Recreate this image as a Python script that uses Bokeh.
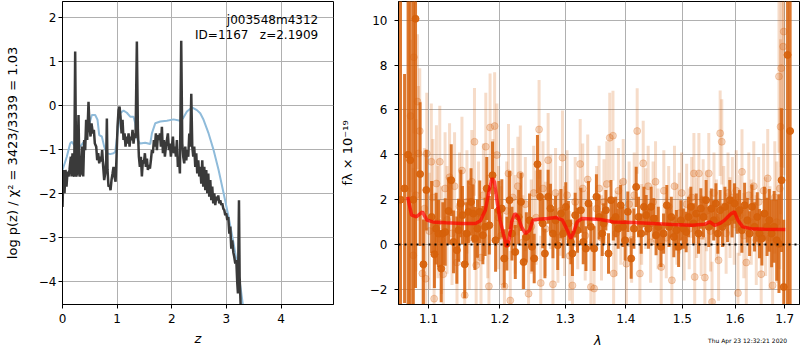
from bokeh.plotting import figure
from bokeh.layouts import row, column
from bokeh.models import Range1d, FixedTicker, CustomJSTickFormatter, Label, Span
from bokeh.embed import file_html
from bokeh.resources import INLINE

FONT = "DejaVu Sans"

# ---------------- left panel: p(z) and chi2 curves ----------------
pz_z = [0.000, 0.018, 0.037, 0.055, 0.073, 0.092, 0.110, 0.128, 0.153, 0.165,
        0.183, 0.195, 0.214, 0.232, 0.250, 0.269, 0.293, 0.311, 0.336, 0.360,
        0.379, 0.397, 0.415, 0.433, 0.452, 0.476, 0.495, 0.513, 0.531, 0.556,
        0.574, 0.592, 0.617, 0.635, 0.653, 0.672, 0.690, 0.708, 0.726, 0.745,
        0.763, 0.781, 0.800, 0.812, 0.824, 0.842, 0.861, 0.879, 0.897, 0.916,
        0.934, 0.952, 0.971, 0.989, 1.007, 1.026, 1.044, 1.062, 1.081, 1.099,
        1.117, 1.136, 1.154, 1.172, 1.190, 1.209, 1.227, 1.245, 1.264, 1.282,
        1.300, 1.319, 1.337, 1.361, 1.380, 1.398, 1.416, 1.435, 1.453, 1.471,
        1.490, 1.508, 1.526, 1.545, 1.563, 1.581, 1.600, 1.618, 1.636, 1.654,
        1.673, 1.691, 1.709, 1.728, 1.746, 1.764, 1.783, 1.801, 1.819, 1.838,
        1.856, 1.874, 1.893, 1.911, 1.929, 1.948, 1.966, 1.984, 2.002, 2.021,
        2.039, 2.057, 2.076, 2.094, 2.112, 2.131, 2.149, 2.173, 2.192, 2.210,
        2.228, 2.247, 2.265, 2.283, 2.302, 2.320, 2.338, 2.357, 2.375, 2.393,
        2.411, 2.430, 2.448, 2.466, 2.485, 2.503, 2.521, 2.540, 2.558, 2.576,
        2.595, 2.613, 2.631, 2.650, 2.668, 2.686, 2.705, 2.723, 2.741, 2.759,
        2.778, 2.796, 2.814, 2.833, 2.851, 2.869, 2.888, 2.906, 2.924, 2.943,
        2.961, 2.979, 2.998, 3.016, 3.034, 3.053, 3.071, 3.089, 3.107, 3.126,
        3.144, 3.162, 3.181, 3.199, 3.211, 3.230, 3.242, 3.260, 3.266]
pz_logp = [-2.31, -1.47, -2.00, -1.47, -1.85, -1.51, -1.62, -1.47, -1.17, -1.62,
           -1.09, -1.55, -1.62, 1.22, -1.62, -1.55, -0.22, -1.62, -1.55, -0.94,
           -1.62, -0.79, -1.02, -0.33, -0.79, 0.08, -0.49, -0.71, -0.41, -0.64,
           -0.56, -0.87, -0.94, -1.25, -1.09, -1.32, -1.17, -1.28, -1.02, -1.40,
           -1.70, -1.55, -1.25, -0.30, -1.47, -1.85, -1.81, -1.93, -1.70, -1.55,
           -1.40, -1.62, -1.74, -1.17, -0.49, -0.11, -0.03, -0.26, -0.64, -0.33,
           -0.79, -0.64, -0.94, -0.71, -0.87, -0.64, -0.94, -0.71, -0.79, -0.56,
           -0.87, -0.64, -0.75, 1.45, -0.56, -1.17, -1.40, -1.17, -1.62, -1.25,
           -1.32, -1.09, -1.40, -1.21, -1.47, -1.36, -1.44, -1.25, -1.02, -1.09,
           -0.79, -0.94, -0.64, -1.02, -0.68, -0.79, -0.64, -0.94, -0.49, -1.09,
           -0.79, -1.17, -0.94, -0.79, -0.64, -1.02, -0.87, -1.17, -0.94, -0.71,
           -1.09, -0.94, -1.17, -0.79, -1.40, -1.17, -1.55, 1.47, -0.87, -1.17,
           -1.32, -0.94, -1.25, -1.02, -1.17, -0.64, -0.94, 0.26, -0.94, -1.17,
           -0.94, -1.40, -1.09, -1.55, -1.25, -1.62, -1.40, -1.78, -1.25, -1.85,
           -1.40, -1.93, -1.47, -2.00, -1.55, -2.08, -1.70, -2.16, -1.85, -2.23,
           -2.00, -2.27, -2.08, -2.16, -2.05, -2.23, -2.16, -2.27, -2.23, -2.35,
           -2.38, -2.50, -2.46, -2.61, -2.54, -2.92, -2.76, -3.26, -3.07, -3.34,
           -3.45, -3.60, -3.52, -4.05, -4.28, -2.16, -3.90, -4.53, -4.82]

chi_z = [0.000, 0.079, 0.140, 0.171, 0.232, 0.324, 0.415, 0.476, 0.537, 0.598,
         0.641, 0.672, 0.720, 0.763, 0.812, 0.873, 0.934, 0.965, 1.007, 1.056,
         1.117, 1.178, 1.239, 1.300, 1.331, 1.374, 1.422, 1.514, 1.606, 1.636,
         1.697, 1.789, 1.911, 2.033, 2.155, 2.204, 2.277, 2.369, 2.460, 2.521,
         2.582, 2.674, 2.766, 2.857, 2.949, 3.040, 3.132, 3.205, 3.266, 3.315]
chi_val = [-1.47, -1.17, -0.87, -0.83, -0.94, -0.94, -0.79, -0.49, -0.22, -0.22,
           -0.33, -0.68, -0.71, -0.94, -1.09, -1.11, -1.09, -1.06, -0.64, -0.18,
           -0.12, -0.17, -0.26, -0.26, -0.41, -0.79, -0.87, -0.85, -0.88, -0.64,
           -0.41, -0.37, -0.35, -0.32, -0.35, -0.30, -0.14, -0.05, -0.11, -0.18,
           -0.33, -0.64, -1.02, -1.47, -2.00, -2.54, -3.14, -3.68, -4.21, -4.66]

z_ticks = [0, 1, 2, 3, 4]
logp_ticks = [-4, -3, -2, -1, 0, 1, 2]
root_name = "j003548m4312"
id_line = "ID=1167\u00a0\u00a0\u00a0z=2.1909"
left_ylabel = "log p(z) / \u03c7\u00b2 = 3423/3339 = 1.03"

# ---------------- right panel: 1D spectrum ----------------
model_wave = [1.0722, 1.0774, 1.0839, 1.0917, 1.0979, 1.1058, 1.1237, 1.1465, 1.1649, 1.1720,
              1.1790, 1.1847, 1.1886, 1.1923, 1.1958, 1.2005, 1.2053, 1.2102, 1.2136, 1.2175,
              1.2224, 1.2272, 1.2323, 1.2382, 1.2446, 1.2496, 1.2571, 1.2723, 1.2852, 1.2955,
              1.3033, 1.3086, 1.3127, 1.3191, 1.3270, 1.3567, 1.3786, 1.4121, 1.4465, 1.4816,
              1.5177, 1.5421, 1.5514, 1.5608, 1.5702, 1.5797, 1.5924, 1.5988, 1.6053, 1.6150,
              1.6312, 1.6575, 1.7013]
model_flux = [2.13, 1.31, 1.24, 1.46, 1.09, 1.01, 0.97, 0.94, 0.94, 1.06,
              1.53, 2.43, 2.95, 2.80, 1.98, 1.09, 0.49, -0.10, 0.19, 1.01,
              1.38, 1.24, 0.79, 0.49, 0.64, 1.09, 1.13, 1.16, 1.21, 1.09,
              0.64, 0.27, 0.49, 1.01, 1.16, 1.12, 1.01, 0.98, 0.94, 0.89,
              0.86, 0.91, 1.01, 0.85, 0.94, 1.09, 1.38, 1.46, 1.09, 0.79,
              0.71, 0.68, 0.67]

dark_wave = [1.0629, 1.0682, 1.0728, 1.0756, 1.0796, 1.0826, 1.0887, 1.0931, 1.0970, 1.1041,
             1.1079, 1.1102, 1.1134, 1.1171, 1.1193, 1.1226, 1.1272, 1.1309, 1.1341, 1.1387,
             1.1410, 1.1442, 1.1465, 1.1497, 1.1525, 1.1548, 1.1586, 1.1617, 1.1641, 1.1677,
             1.1710, 1.1755, 1.1787, 1.1811, 1.1848, 1.1894, 1.1939, 1.1986, 1.2030, 1.2065,
             1.2105, 1.2144, 1.2180, 1.2230, 1.2280, 1.2316, 1.2355, 1.2396, 1.2445, 1.2481,
             1.2516, 1.2566, 1.2606, 1.2647, 1.2681, 1.2731, 1.2767, 1.2806, 1.2847, 1.2881,
             1.2932, 1.2967, 1.3008, 1.3050, 1.3089, 1.3115, 1.3159, 1.3196, 1.3251, 1.3289,
             1.3333, 1.3375, 1.3414, 1.3467, 1.3505, 1.3549, 1.3602, 1.3625, 1.3662, 1.3706,
             1.3748, 1.3787, 1.3825, 1.3869, 1.3911, 1.3950, 1.3987, 1.4033, 1.4091, 1.4138,
             1.4178, 1.4218, 1.4265, 1.4312, 1.4352, 1.4392, 1.4439, 1.4486, 1.4526, 1.4566,
             1.4613, 1.4660, 1.4718, 1.4758, 1.4800, 1.4845, 1.4892, 1.4932, 1.4974, 1.5020,
             1.5071, 1.5114, 1.5158, 1.5207, 1.5257, 1.5300, 1.5344, 1.5393, 1.5443, 1.5493,
             1.5542, 1.5586, 1.5629, 1.5666, 1.5709, 1.5754, 1.5802, 1.5853, 1.5895, 1.5940,
             1.5989, 1.6042, 1.6087, 1.6133, 1.6187, 1.6240, 1.6286, 1.6333, 1.6385, 1.6439,
             1.6484, 1.6532, 1.6583, 1.6637, 1.6683, 1.6730, 1.6782, 1.6835, 1.6881, 1.6935,
             1.6980, 1.7059, 1.7113]
dark_flux = [2.0, 2.5, 4.0, 3.76, 2.0, 10.06, 3.14, -0.88, 2.43, 1.23,
             -0.43, 0.71, 0.49, -1.07, 0.49, 0.56, 1.50, 2.87, 0.12, -0.25,
             0.64, 1.83, 1.31, -0.88, 0.49, 1.46, 1.90, 1.38, 0.27, 0.71,
             1.46, 0.42, 0.79, 2.50, 0.86, 3.09, 0.19, 1.53, 1.61, -0.62,
             0.04, 1.98, 0.49, -0.33, 1.23, 1.90, -0.78, 0.34, 1.08, -0.10,
             -0.62, 3.58, 2.13, 0.94, -0.40, 2.13, 1.61, 0.49, 1.08, -0.03,
             1.38, 0.49, 1.68, 0.94, 0.12, -0.40, 1.31, 0.64, 1.53, 0.12,
             -0.18, 1.83, 0.79, -0.18, 2.13, 1.23, 0.49, 0.94, 1.53, -0.40,
             1.98, 1.08, 1.23, 0.71, 1.75, 0.79, 0.19, 1.46, -0.62, 0.71,
             2.57, 1.23, 0.49, 1.68, 1.31, 0.71, 1.68, 1.16, 0.42, 0.79,
             -0.10, 0.49, 1.75, 0.79, 1.23, 0.34, 0.64, -0.10, 1.08, 0.71,
             0.56, 1.23, 1.68, 0.94, 1.38, 0.49, 1.61, 1.23, 1.98, 0.79,
             1.60, 1.08, 1.83, 0.49, 1.53, 0.79, 1.68, 1.01, 1.98, 1.23,
             1.83, 1.38, 1.53, 0.64, 1.75, 1.08, 0.49, 1.68, 0.79, 1.23,
             0.49, 0.27, 1.38, 0.79, 1.08, 0.49, 0.79, 0.19, 0.04, 2.87,
             -1.89, 8.45, 5.06]
dark_err = [15, 5.1, 12, 12, 12, 12, 3.2, 2.0, 1.8, 1.6,
            1.5, 1.6, 1.5, 1.5, 1.4, 1.5, 1.5, 1.6, 1.4, 1.5,
            1.4, 1.5, 1.3, 1.5, 1.4, 1.4, 1.5, 1.3, 1.4, 1.3,
            1.4, 1.3, 1.3, 1.4, 1.3, 1.5, 1.4, 1.3, 1.3, 1.3,
            1.2, 1.3, 1.2, 1.2, 1.2, 1.3, 1.2, 1.1, 1.2, 1.1,
            1.1, 1.3, 1.2, 1.1, 1.1, 1.2, 1.1, 1.1, 1.1, 1.1,
            1.1, 1.1, 1.1, 1.0, 1.0, 1.0, 1.0, 1.0, 1.0, 1.0,
            1.0, 1.0, 1.0, 1.0, 1.0, 1.0, 1.0, 0.9, 0.9, 0.9,
            0.9, 0.9, 0.9, 0.9, 0.9, 0.9, 0.9, 0.9, 0.9, 0.9,
            0.9, 0.9, 0.9, 0.9, 0.9, 0.9, 0.9, 0.9, 0.9, 0.9,
            0.9, 0.9, 0.9, 0.9, 0.9, 0.9, 0.9, 0.9, 0.9, 0.9,
            0.9, 0.9, 0.9, 0.9, 0.9, 0.9, 0.9, 0.9, 0.9, 0.9,
            0.9, 0.9, 0.9, 0.9, 0.9, 0.9, 0.9, 0.9, 0.9, 0.9,
            0.9, 0.9, 0.9, 1.0, 1.0, 1.0, 1.0, 1.0, 1.1, 1.1,
            1.1, 1.2, 1.2, 1.3, 1.4, 1.5, 1.6, 1.8, 2.2, 3.2,
            3.0, 12, 12]

light_wave = [1.0760, 1.0796, 1.0804, 1.0832, 1.0852, 1.0865, 1.0882, 1.0917, 1.0944, 1.0961,
              1.0976, 1.1010, 1.1037, 1.1058, 1.1075, 1.1106, 1.1127, 1.1152, 1.1175, 1.1199,
              1.1224, 1.1251, 1.1286, 1.1320, 1.1355, 1.1389, 1.1424, 1.1458, 1.1497, 1.1528,
              1.1562, 1.1597, 1.1635, 1.1659, 1.1693, 1.1728, 1.1762, 1.1797, 1.1824, 1.1842,
              1.1859, 1.1901, 1.1925, 1.1958, 1.1983, 1.2020, 1.2069, 1.2102, 1.2129, 1.2155,
              1.2193, 1.2230, 1.2268, 1.2305, 1.2343, 1.2381, 1.2430, 1.2471, 1.2508, 1.2546,
              1.2591, 1.2617, 1.2651, 1.2689, 1.2731, 1.2772, 1.2806, 1.2847, 1.2884, 1.2922,
              1.2956, 1.2989, 1.3029, 1.3070, 1.3115, 1.3159, 1.3200, 1.3240, 1.3281, 1.3321,
              1.3362, 1.3414, 1.3467, 1.3508, 1.3549, 1.3589, 1.3630, 1.3678, 1.3727, 1.3781,
              1.3792, 1.3833, 1.3873, 1.3914, 1.3955, 1.4009, 1.4056, 1.4099, 1.4143, 1.4195,
              1.4242, 1.4273, 1.4300, 1.4343, 1.4387, 1.4430, 1.4474, 1.4517, 1.4561, 1.4618,
              1.4665, 1.4709, 1.4752, 1.4810, 1.4857, 1.4900, 1.4944, 1.4988, 1.5034, 1.5080,
              1.5127, 1.5173, 1.5214, 1.5229, 1.5266, 1.5307, 1.5350, 1.5387, 1.5419, 1.5452,
              1.5493, 1.5527, 1.5555, 1.5592, 1.5639, 1.5680, 1.5710, 1.5741, 1.5779, 1.5825,
              1.5862, 1.5900, 1.5946, 1.5983, 1.6022, 1.6056, 1.6091, 1.6135, 1.6171, 1.6220,
              1.6270, 1.6319, 1.6369, 1.6419, 1.6468, 1.6518, 1.6567, 1.6607, 1.6651, 1.6696,
              1.6750, 1.6795, 1.6835, 1.6881, 1.6899, 1.6914, 1.6928, 1.6968, 1.6980]
light_flux = [5.73, -0.48, 8.35, 2.2, 6.37, 4.06, 5.06, -1.29, 1.6, -1.52,
              4.06, 0.6, 3.69, 2.1, -2.41, 2.72, 1.0, 3.69, 0.2, -1.32,
              2.5, 1.1, 3.0, 0.5, 2.6, -0.8, 1.7, 3.3, -2.26, 1.9,
              0.3, 2.8, 4.58, -0.92, 1.4, -0.58, 2.2, 4.36, 0.8, -1.86,
              5.22, 2.4, 5.28, 3.99, 1.2, 0.4, -1.86, 1.5, 3.17, -2.49,
              2.1, 0.9, 2.6, 3.10, 0.1, 1.8, -2.19, 0.8, 2.3, 1.2,
              5.13, -1.71, 2.5, 0.7, 3.76, 1.9, -1.77, 2.3, 0.3, 1.5,
              3.87, 0.6, 2.2, -0.5, -1.82, 1.9, 0.9, 3.59, 2.5, 0.4,
              2.9, -1.89, -1.96, 1.6, 2.5, 0.3, 1.9, 2.7, 4.76, 4.85,
              -1.29, 0.5, 2.4, 1.0, 2.8, -0.85, 1.8, 0.2, 2.2, 5.06,
              -1.29, 0.9, 3.62, 1.6, 2.6, 0.1, 1.9, 2.8, 0.7, -1.00,
              2.4, 0.3, 1.7, -1.59, 2.6, 0.9, 1.4, 2.3, 0.2, 1.8,
              0.7, 2.1, 3.17, -1.44, 1.2, 3.17, 0.4, 2.0, -1.47, 1.5,
              3.17, 0.6, -2.56, 2.3, 1.1, -0.70, 4.96, 4.58, 1.7, 0.5,
              2.3, 1.2, 2.1, 0.9, 2.4, -2.16, 1.3, 3.24, 0.4, -0.80,
              2.2, 1.0, 2.6, 0.2, 1.9, -1.32, 2.4, 0.8, 2.95, 0.3,
              -1.82, 2.1, 1.0, 7.49, 2.5, 5.25, 7.86, 8.82, 9.49]
light_err = [3.4, 3.9, 3.4, 3.4, 3.0, 3.0, 2.8, 2.6, 2.7, 2.6,
             2.7, 2.6, 2.6, 2.6, 2.4, 2.6, 2.5, 2.5, 2.4, 2.4,
             2.5, 2.4, 2.4, 2.3, 2.4, 2.3, 2.4, 2.4, 2.3, 2.3,
             2.3, 2.3, 2.4, 2.3, 2.3, 2.3, 2.3, 2.4, 2.3, 2.3,
             2.4, 2.3, 2.4, 2.3, 2.3, 2.2, 2.2, 2.2, 2.2, 2.2,
             2.2, 2.2, 2.2, 2.2, 2.1, 2.1, 2.1, 2.1, 2.1, 2.1,
             2.2, 2.1, 2.1, 2.1, 2.1, 2.1, 2.0, 2.0, 2.0, 2.0,
             2.1, 2.0, 2.0, 2.0, 2.0, 2.0, 2.0, 2.0, 2.0, 2.0,
             2.0, 2.0, 1.9, 1.9, 1.9, 1.9, 1.9, 1.9, 2.0, 2.0,
             1.9, 1.9, 1.9, 1.9, 1.9, 1.9, 1.9, 1.9, 1.9, 1.9,
             1.9, 1.8, 1.9, 1.8, 1.8, 1.8, 1.8, 1.8, 1.8, 1.8,
             1.8, 1.8, 1.8, 1.8, 1.8, 1.8, 1.8, 1.8, 1.8, 1.8,
             1.8, 1.8, 1.8, 1.8, 1.8, 1.8, 1.8, 1.8, 1.8, 1.8,
             1.8, 1.8, 1.8, 1.8, 1.8, 1.8, 1.9, 1.9, 1.8, 1.8,
             1.8, 1.8, 1.8, 1.8, 1.8, 1.8, 1.8, 1.9, 1.9, 1.9,
             1.9, 1.9, 2.0, 2.0, 2.0, 2.1, 2.1, 2.2, 2.2, 2.3,
             2.4, 2.5, 2.7, 3.4, 3.6, 3.9, 4.4, 5.4, 6.4]

wave_ticks = [1.1, 1.2, 1.3, 1.4, 1.5, 1.6, 1.7]
flux_ticks = [-2, 0, 2, 4, 6, 8, 10]
right_ylabel = "f\u03bb \u00d7 10\u207b\u00b9\u2079"
right_xlabel = "\u03bb"
timestamp = "Thu Apr 23 12:32:21 2020"

ORANGE = "#d6600a"

minus_fmt = CustomJSTickFormatter(
    code="return (tick < 0 ? '\\u2212' : '') + Math.abs(tick).toString();")
wave_fmt = CustomJSTickFormatter(code="return tick.toFixed(1);")


def style(p):
    p.outline_line_color = "black"
    p.outline_line_width = 1
    p.outline_line_alpha = 1
    p.background_fill_color = "white"
    p.border_fill_color = "white"
    for ax in p.axis:
        ax.axis_line_color = "black"
        ax.major_tick_line_color = "black"
        ax.major_tick_out = 4
        ax.major_tick_in = 0
        ax.minor_tick_out = 0
        ax.minor_tick_in = 0
        ax.major_label_text_font = FONT
        ax.major_label_text_font_size = "12px"
        ax.major_label_text_color = "black"
        ax.axis_label_text_font = FONT
        ax.axis_label_text_font_size = "13px"
        ax.axis_label_text_font_style = "normal"
        ax.axis_label_text_color = "black"
    p.xaxis.major_label_standoff = 5
    p.xaxis.axis_label_standoff = 5
    for g in p.grid:
        g.grid_line_color = "#b0b0b0"
        g.grid_line_width = 1


# left figure
p1 = figure(width=336, height=350, x_range=Range1d(0, 4.96), y_range=Range1d(-4.53, 2.36),
            output_backend="svg", toolbar_location=None,
            min_border_left=62, min_border_right=3, min_border_top=1, min_border_bottom=46)
p1.xaxis.ticker = FixedTicker(ticks=z_ticks, minor_ticks=[])
p1.yaxis.ticker = FixedTicker(ticks=logp_ticks, minor_ticks=[])
p1.xaxis.formatter = minus_fmt
p1.yaxis.formatter = minus_fmt
p1.xaxis.axis_label = "z"
p1.yaxis.axis_label = left_ylabel
style(p1)
p1.xaxis.axis_label_text_font_style = "italic"
p1.yaxis.major_label_standoff = 2
p1.yaxis.axis_label_standoff = 16

p1.line(chi_z, chi_val, line_color="#8fbbda", line_width=2)
p1.line(pz_z, pz_logp, line_color="#3a3a3a", line_width=2.5)

p1.add_layout(Label(x=4.68, y=1.94, text=root_name, text_align="right", text_baseline="middle",
                    text_font=FONT, text_font_size="12px", text_color="black"))
p1.add_layout(Label(x=4.68, y=1.60, text=id_line, text_align="right", text_baseline="middle",
                    text_font=FONT, text_font_size="12px", text_color="black"))

# right figure
wave_range = Range1d(1.0603, 1.731)
p2 = figure(width=464, height=330, x_axis_type="log",
            x_range=wave_range, y_range=Range1d(-2.67, 10.83),
            output_backend="svg", toolbar_location=None,
            min_border_left=56, min_border_right=1, min_border_top=1, min_border_bottom=26)
p2.xaxis.ticker = FixedTicker(ticks=wave_ticks, minor_ticks=[])
p2.yaxis.ticker = FixedTicker(ticks=flux_ticks, minor_ticks=[])
p2.xaxis.formatter = wave_fmt
p2.yaxis.formatter = minus_fmt
p2.yaxis.axis_label = right_ylabel
style(p2)
p2.yaxis.major_label_standoff = 7
p2.yaxis.axis_label_standoff = 12

light_lo = [f - e for f, e in zip(light_flux, light_err)]
light_hi = [f + e for f, e in zip(light_flux, light_err)]
dark_lo = [f - e for f, e in zip(dark_flux, dark_err)]
dark_hi = [f + e for f, e in zip(dark_flux, dark_err)]

p2.segment(x0=light_wave, y0=light_lo, x1=light_wave, y1=light_hi,
           line_color=ORANGE, line_alpha=0.22, line_width=3)
p2.scatter(light_wave, light_flux, size=7, fill_color=ORANGE, line_color=ORANGE,
           fill_alpha=0.25, line_alpha=0.25)
p2.segment(x0=dark_wave, y0=dark_lo, x1=dark_wave, y1=dark_hi,
           line_color=ORANGE, line_alpha=0.85, line_width=3)
p2.scatter(dark_wave, dark_flux, size=7, fill_color=ORANGE, line_color=ORANGE,
           fill_alpha=0.9, line_alpha=0.9)
p2.line(model_wave, model_flux, line_color="red", line_alpha=0.7, line_width=3.5)

p2.add_layout(Span(location=0, dimension="width", line_color="black",
                   line_dash="2 4", line_width=2))

# strip below the spectrum holding the wavelength label and the time stamp
p3 = figure(width=464, height=20, x_axis_type="log", x_range=wave_range,
            y_range=Range1d(0, 1), output_backend="svg", toolbar_location=None,
            min_border_left=56, min_border_right=1, min_border_top=0, min_border_bottom=0)
p3.axis.visible = False
p3.grid.visible = False
p3.outline_line_color = None
p3.background_fill_color = "white"
p3.border_fill_color = "white"
p3.add_layout(Label(x=1.353, y=0.5, text=right_xlabel, text_align="center",
                    text_baseline="middle", text_font=FONT, text_font_size="13px",
                    text_font_style="italic", text_color="black"))
p3.add_layout(Label(x=1.705, y=0.5, text=timestamp, text_align="right",
                    text_baseline="middle", text_font=FONT, text_font_size="6px",
                    text_color="black"))

layout = row(p1, column(p2, p3))
open("out.html", "w").write(file_html(layout, INLINE))
